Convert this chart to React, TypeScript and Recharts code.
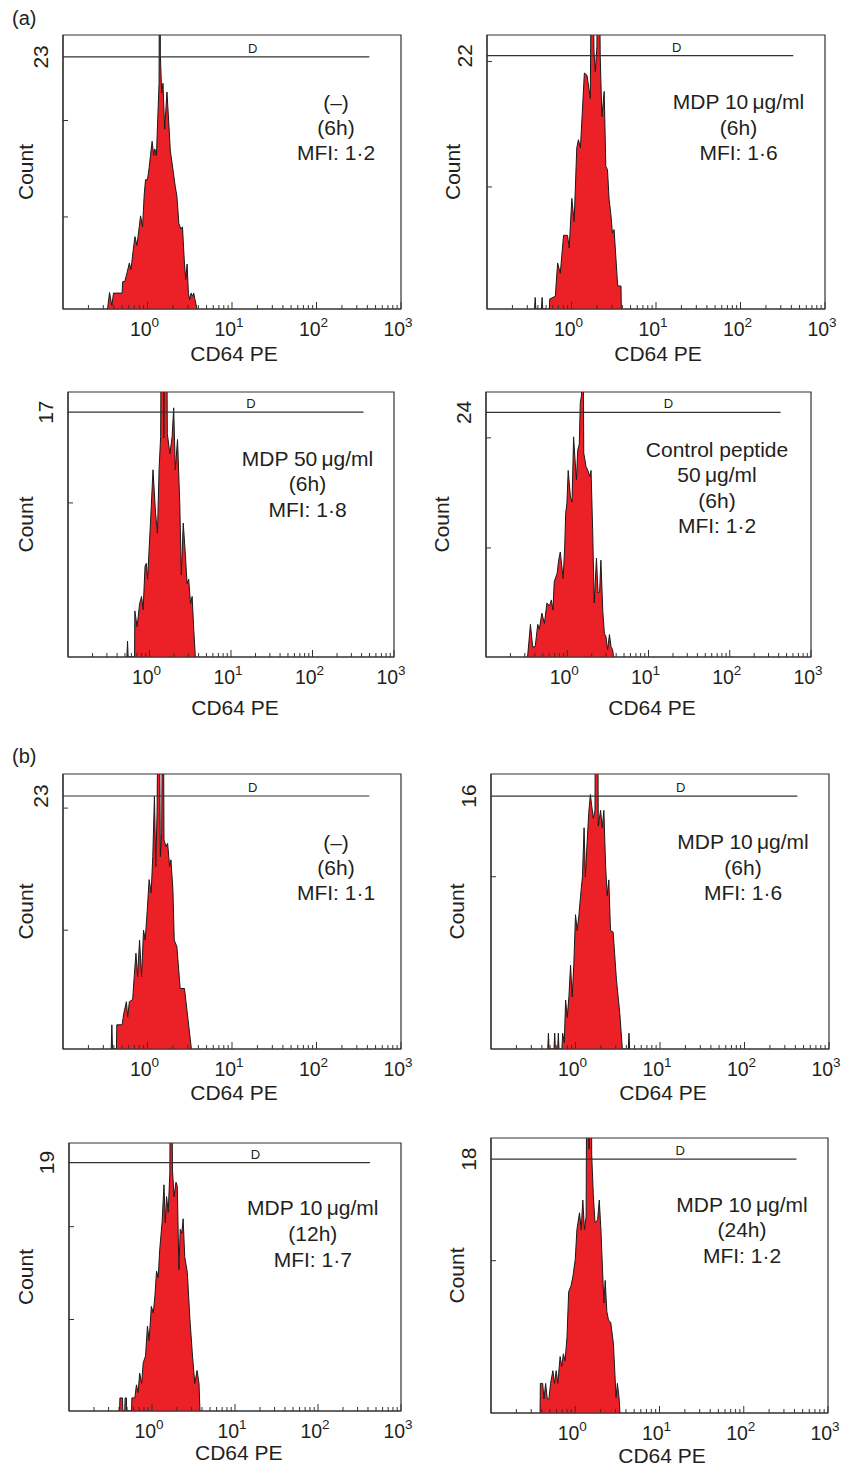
import React from "react";
import {
  AreaChart,
  Area,
  XAxis,
  YAxis,
  ReferenceLine,
  ReferenceDot,
  ReferenceArea,
} from "recharts";

const FONT = "'Liberation Sans', Arial, Helvetica, sans-serif";
const INK = "#231f20";
const AXIS = "#333333";
const RED = "#ec2027";

// CD64 PE log axis, 4 decades
const decades = [1, 10, 100, 1000];
const decadeExp = ["0", "1", "2", "3"];
const minorSteps = [2, 3, 4, 5, 6, 7, 8, 9];
const xTicks = [0.1, 1, 10, 100]
  .flatMap((d) => minorSteps.map((m) => d * m))
  .concat(decades)
  .sort((a, b) => a - b);

// gate "D"
const gateEnd = 422;
const gateLabelX = 17.6;

// histogram channels (0-1024 over 0.1..1000) and counts
const a1Ch = [135, 141, 148, 153, 179, 181, 187, 194, 201, 206, 212, 218, 224, 231, 235, 241, 246, 250, 256, 261, 265, 270, 275, 278, 283, 287, 291, 293, 295, 299, 303, 308, 315, 321, 325, 340, 345, 351, 357, 362, 368, 372, 376, 380, 384, 388, 393, 396, 400, 406];
const a1Cnt = [0, 1.5, 0.3, 1.45, 1.45, 2.5, 2.5, 3.3, 4.2, 3.6, 5.2, 6.6, 5.8, 7.5, 8.5, 7.5, 10.4, 11.8, 11.8, 12.9, 14.0, 15.3, 14.0, 14.6, 14.0, 17.3, 20.6, 40, 23.2, 19.7, 20.6, 16.4, 19.8, 16.7, 14.5, 11.2, 10.3, 7.8, 7.3, 7.5, 4.1, 2.7, 4.1, 1.4, 0.85, 1.45, 1.15, 1.45, 0.85, 0];

const a2Ch = [144, 146, 148, 165, 167, 169, 189, 190, 207, 214, 222, 232, 244, 249, 257, 264, 272, 277, 283, 288, 295, 303, 313, 318, 324, 328, 333, 338, 343, 348, 355, 360, 365, 370, 375, 380, 385, 396, 406, 407];
const a2Cnt = [0, 1.0, 0, 0, 1.0, 0, 0, 0.87, 1.1, 4.0, 3.1, 6.4, 6.4, 5.3, 9.6, 7.6, 14.0, 14.7, 14.0, 16.7, 20.5, 20.3, 18.3, 40, 22.5, 20.6, 22.8, 40, 22.0, 16.7, 18.9, 12.4, 12.1, 9.5, 8.3, 6.6, 6.9, 2.0, 2.0, 0];

const a3Ch = [185, 187, 189, 209, 210, 217, 225, 231, 236, 242, 246, 250, 259, 267, 275, 281, 286, 291, 296, 301, 306, 312, 320, 327, 332, 337, 344, 351, 356, 362, 369, 374, 379, 385, 390, 395, 400];
const a3Cnt = [0, 1.1, 0, 0, 3.2, 2.1, 3.7, 4.2, 3.3, 6.3, 6.5, 5.4, 9.3, 13.0, 10.0, 8.6, 13.0, 15.3, 40, 15.2, 40, 15.5, 14.1, 15.3, 17.3, 13.0, 15.1, 10.7, 5.7, 9.3, 7.0, 5.1, 5.4, 3.7, 4.2, 1.9, 0];

const a4Ch = [131, 140, 147, 155, 163, 168, 176, 184, 192, 200, 206, 211, 215, 224, 229, 234, 243, 248, 251, 255, 259, 266, 271, 276, 280, 285, 289, 294, 297, 301, 305, 308, 312, 315, 321, 327, 331, 336, 341, 348, 353, 358, 362, 368, 373, 378, 383, 389, 394, 399, 402];
const a4Cnt = [0, 3.2, 1.0, 1.0, 3.2, 2.7, 4.3, 3.3, 5.3, 5.0, 5.6, 4.6, 7.4, 8.2, 9.5, 10.3, 7.7, 10.8, 14.1, 15.1, 18.3, 15.7, 15.2, 21.6, 19.6, 17.4, 20.3, 20.9, 24.9, 25.7, 40, 20.0, 19.3, 18.7, 18.3, 17.7, 18.3, 12.5, 5.3, 9.7, 6.3, 6.4, 9.5, 4.5, 2.3, 2.0, 0.7, 2.2, 1.0, 0.7, 0];

const b1Ch = [146, 148, 150, 162, 163, 179, 184, 192, 196, 201, 211, 216, 221, 226, 232, 238, 244, 249, 255, 261, 267, 272, 277, 281, 285, 290, 295, 299, 303, 306, 312, 317, 323, 327, 333, 337, 345, 355, 368, 389];
const b1Cnt = [0, 2.2, 0, 0, 2.2, 2.2, 3.2, 4.3, 2.9, 4.3, 4.5, 6.7, 8.7, 6.6, 9.9, 6.6, 10.8, 9.9, 12.5, 15.4, 14.2, 17.5, 23.0, 16.6, 21.5, 40, 17.5, 19.6, 40, 19.0, 18.4, 18.7, 16.6, 17.2, 14.5, 9.9, 9.3, 5.5, 5.5, 0];

const b2Ch = [172, 174, 176, 191, 193, 195, 202, 204, 206, 215, 217, 222, 226, 231, 236, 241, 246, 251, 256, 261, 266, 271, 277, 282, 286, 290, 296, 301, 305, 310, 315, 320, 325, 332, 337, 342, 347, 352, 357, 362, 370, 380, 390, 398, 416, 418, 420];
const b2Cnt = [0, 1.0, 0, 0, 1.0, 0, 0, 1.0, 0, 0, 1.0, 0.4, 3.1, 2.0, 3.3, 5.3, 3.3, 5.4, 8.5, 7.5, 8.4, 9.6, 10.9, 14.0, 10.9, 12.6, 14.9, 16.1, 15.4, 14.6, 15.1, 40, 14.1, 15.1, 14.0, 15.1, 11.7, 9.7, 10.7, 7.5, 7.4, 4.4, 2.3, 0, 0, 1.0, 0];

const b3Ch = [156, 157, 165, 166, 172, 173, 177, 178, 193, 194, 203, 208, 213, 218, 224, 229, 236, 242, 247, 254, 260, 265, 270, 275, 280, 287, 293, 297, 301, 306, 311, 315, 319, 324, 330, 334, 339, 343, 348, 352, 357, 365, 373, 381, 388, 395, 401, 404];
const b3Cnt = [0, 1.0, 1.0, 0, 0, 1.0, 1.0, 0, 0, 1.0, 1.0, 2.0, 1.4, 2.9, 2.1, 3.7, 4.2, 6.5, 5.4, 8.0, 7.5, 8.8, 10.7, 10.2, 12.4, 14.4, 17.3, 14.4, 16.4, 15.2, 18.2, 40, 18.5, 16.4, 17.5, 17.2, 10.8, 13.9, 13.6, 14.7, 11.8, 10.6, 7.0, 4.2, 2.1, 3.1, 2.1, 0];

const b4Ch = [149, 150, 157, 161, 166, 171, 176, 181, 188, 193, 198, 203, 210, 215, 220, 225, 231, 236, 243, 249, 256, 261, 269, 274, 279, 284, 289, 294, 298, 303, 306, 311, 316, 324, 329, 334, 339, 343, 347, 352, 357, 364, 372, 380, 384, 389, 392];
const b4Cnt = [0, 2.1, 2.1, 1.0, 2.1, 1.0, 1.0, 2.1, 3.0, 2.1, 3.0, 2.1, 4.0, 3.3, 4.2, 3.7, 5.4, 8.6, 9.0, 9.7, 10.9, 13.0, 14.2, 13.0, 15.1, 13.0, 13.9, 40, 18.7, 40, 18.3, 15.4, 13.5, 13.7, 15.1, 13.0, 10.1, 7.8, 9.4, 7.2, 6.6, 6.4, 4.9, 1.1, 2.1, 1.1, 0];

// y axis: top label and small ticks
const a1Y = { max: 25, label: 23, ticks: [8.4, 17.2] };
const a2Y = { max: 23.8, label: 22, ticks: [10.6, 21.5] };
const a3Y = { max: 18.4, label: 17, ticks: [10.7] };
const a4Y = { max: 26, label: 24, ticks: [10.7, 21.5] };
const b1Y = { max: 25, label: 23, ticks: [10.8, 21.9] };
const b2Y = { max: 17.4, label: 16, ticks: [10.9] };
const b3Y = { max: 20.5, label: 19, ticks: [7.0, 14.1] };
const b4Y = { max: 19.5, label: 18, ticks: [10.8] };

// annotation lines
const a1Text = ["(\u2013)", "(6h)", "MFI: 1\u00b72"];
const a2Text = ["MDP 10\u2009\u03bcg/ml", "(6h)", "MFI: 1\u00b76"];
const a3Text = ["MDP 50\u2009\u03bcg/ml", "(6h)", "MFI: 1\u00b78"];
const a4Text = ["Control peptide", "50\u2009\u03bcg/ml", "(6h)", "MFI: 1\u00b72"];
const b1Text = ["(\u2013)", "(6h)", "MFI: 1\u00b71"];
const b2Text = ["MDP 10\u2009\u03bcg/ml", "(6h)", "MFI: 1\u00b76"];
const b3Text = ["MDP 10\u2009\u03bcg/ml", "(12h)", "MFI: 1\u00b77"];
const b4Text = ["MDP 10\u2009\u03bcg/ml", "(24h)", "MFI: 1\u00b72"];

// layout (plot boxes in page pixels)
const panels = [
  { ch: a1Ch, cnt: a1Cnt, y: a1Y, text: a1Text, box: [63, 35, 338, 274], ann: [336, 110, 25], count: 25, title: [234, 361] },
  { ch: a2Ch, cnt: a2Cnt, y: a2Y, text: a2Text, box: [487, 35, 338, 274], ann: [738.5, 109, 25.5], count: 452.5, title: [658, 361] },
  { ch: a3Ch, cnt: a3Cnt, y: a3Y, text: a3Text, box: [68, 392, 326, 265], ann: [307.5, 465.7, 25.5], count: 25.3, title: [235, 715] },
  { ch: a4Ch, cnt: a4Cnt, y: a4Y, text: a4Text, box: [486, 392, 325, 265], ann: [717, 457.3, 25.1], count: 441.7, title: [652, 715] },
  { ch: b1Ch, cnt: b1Cnt, y: b1Y, text: b1Text, box: [63, 774, 338, 275], ann: [336, 850, 25], count: 25, title: [234, 1100] },
  { ch: b2Ch, cnt: b2Cnt, y: b2Y, text: b2Text, box: [491, 774, 338, 275], ann: [743, 849, 25.5], count: 456.7, title: [663, 1100] },
  { ch: b3Ch, cnt: b3Cnt, y: b3Y, text: b3Text, box: [69, 1143, 332, 268], ann: [312.8, 1215, 25.8], count: 25, title: [238.8, 1460] },
  { ch: b4Ch, cnt: b4Cnt, y: b4Y, text: b4Text, box: [491, 1138, 337, 275], ann: [742, 1211.7, 25.5], count: 456, title: [662, 1463] },
];

// chart margins around the plot box; axes take 1px each
const ML = 60;
const MT = 20;
const MR = 20;
const MB = 50;

const chToValue = (c: number) => Math.pow(10, c / 256 - 1);

const XTick = (props: any) => {
  const { x, y, payload } = props;
  const idx = decades.indexOf(payload.value);
  const isDecade = idx >= 0;
  return (
    <g>
      <line x1={x} x2={x} y1={y} y2={y - (isDecade ? 7 : 4)} stroke={AXIS} strokeWidth={1} />
      {isDecade && (
        <text x={x - 3} y={y + 27} textAnchor="middle" fontSize={19.5} fill={INK} fontFamily={FONT}>
          10
          <tspan dy={-9} fontSize={13.5}>
            {decadeExp[idx]}
          </tspan>
        </text>
      )}
    </g>
  );
};

const YTick = (props: any) => {
  const { x, y, payload, labelValue } = props;
  if (payload.value === labelValue) {
    return (
      <text
        transform={`translate(${x - 23},${y}) rotate(-90)`}
        textAnchor="middle"
        dominantBaseline="central"
        fontSize={21}
        fill={INK}
        fontFamily={FONT}
      >
        {payload.value}
      </text>
    );
  }
  return <line x1={x} x2={x + 5} y1={y} y2={y} stroke={AXIS} strokeWidth={1} />;
};

const Panel = ({ p }: { p: any }) => {
  const [left, top, w, h] = p.box;
  const data = p.ch.map((c: number, i: number) => ({ x: chToValue(c), y: p.cnt[i] }));
  return (
    <div style={{ position: "absolute", left: left - ML, top: top - MT }}>
      <AreaChart
        width={w + ML + MR}
        height={h + MT + MB}
        data={data}
        margin={{ top: MT, right: MR, bottom: MB - 1, left: ML - 1 }}
      >
        <ReferenceArea
          x1={0.1}
          x2={1000}
          y1={0}
          y2={p.y.max}
          fill="none"
          stroke={AXIS}
          strokeWidth={1.2}
          ifOverflow="visible"
        />
        <Area
          type="linear"
          dataKey="y"
          stroke="#1a1a1a"
          strokeWidth={1}
          fill={RED}
          fillOpacity={1}
          dot={false}
          activeDot={false}
          isAnimationActive={false}
        />
        <ReferenceLine
          segment={[
            { x: 0.1, y: p.y.label },
            { x: gateEnd, y: p.y.label },
          ]}
          stroke={AXIS}
          strokeWidth={1.2}
        />
        <ReferenceDot
          x={gateLabelX}
          y={p.y.label}
          r={0}
          fill="none"
          stroke="none"
          label={{ value: "D", position: "top", offset: 4, fontSize: 13, fill: INK, fontFamily: FONT }}
        />
        <XAxis
          type="number"
          dataKey="x"
          scale="log"
          domain={[0.1, 1000]}
          allowDataOverflow
          ticks={xTicks}
          interval={0}
          tickSize={0}
          tickMargin={0}
          tickLine={false}
          tick={(t: any) => <XTick {...t} />}
          height={1}
          axisLine={{ stroke: AXIS, strokeWidth: 1.2 }}
        />
        <YAxis
          type="number"
          domain={[0, p.y.max]}
          allowDataOverflow
          ticks={[...p.y.ticks, p.y.label]}
          interval={0}
          tickSize={0}
          tickMargin={0}
          tickLine={false}
          tick={(t: any) => <YTick {...t} labelValue={p.y.label} />}
          width={1}
          axisLine={{ stroke: AXIS, strokeWidth: 1.2 }}
        />
      </AreaChart>
    </div>
  );
};

export default function App() {
  return (
    <div
      style={{
        position: "absolute",
        left: 0,
        top: 0,
        width: 849,
        height: 1466,
        background: "#fff",
        fontFamily: FONT,
      }}
    >
      {panels.map((p, i) => (
        <Panel key={i} p={p} />
      ))}
      <svg
        width={849}
        height={1466}
        style={{ position: "absolute", left: 0, top: 0, pointerEvents: "none" }}
        fontFamily={FONT}
        fill={INK}
      >
        <text x={12} y={24.5} fontSize={20}>
          (a)
        </text>
        <text x={12} y={762.5} fontSize={20}>
          (b)
        </text>
        {panels.map((p, i) => {
          const [, top, , h] = p.box;
          const [ax, ay, step] = p.ann;
          return (
            <g key={i}>
              <text
                transform={`translate(${p.count},${top + h / 2}) rotate(-90)`}
                textAnchor="middle"
                dominantBaseline="central"
                fontSize={21}
              >
                Count
              </text>
              <text x={p.title[0]} y={p.title[1]} textAnchor="middle" fontSize={21}>
                CD64 PE
              </text>
              {p.text.map((line: string, j: number) => (
                <text key={j} x={ax} y={ay + j * step} textAnchor="middle" fontSize={21}>
                  {line}
                </text>
              ))}
            </g>
          );
        })}
      </svg>
    </div>
  );
}
